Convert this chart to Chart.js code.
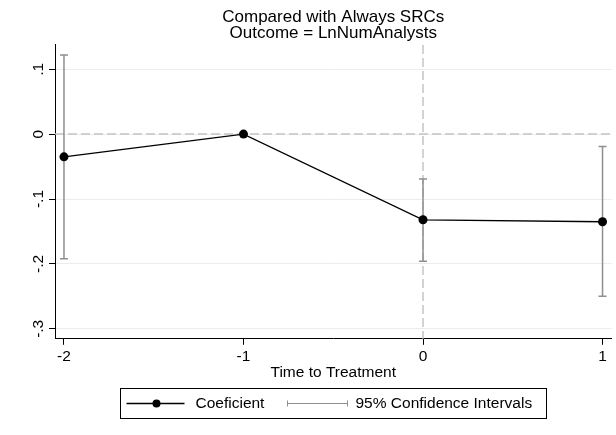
<!DOCTYPE html>
<html>
<head>
<meta charset="utf-8">
<script src="https://cdn.jsdelivr.net/npm/chart.js@4.4.1/dist/chart.umd.min.js"></script>
<style>
  html, body { margin: 0; padding: 0; background: #fff; }
  canvas { display: block; }
</style>
</head>
<body>
<canvas id="chart" width="616" height="435"></canvas>
<script>
// event-study estimates
const periods = [-2, -1, 0, 1];
const coefficients = [-0.035, 0, -0.132, -0.135];
const ciLower = [-0.192, null, -0.196, -0.250];
const ciUpper = [0.122, null, -0.069, -0.019];

const xTicks = [-2, -1, 0, 1];
const yTicks = [-0.3, -0.2, -0.1, 0, 0.1];

const titleLines = ['Compared with Always SRCs', 'Outcome = LnNumAnalysts'];
const xTitle = 'Time to Treatment';
const legendLabels = ['Coeficient', '95% Confidence Intervals'];

const FONT = "'Liberation Sans', Arial, sans-serif";
const CI_COLOR = '#8f8f8f';
const REF_COLOR = '#c4c4c4';

// Stata style: ".1", "-.1"
function fmtTick(v) {
  const r = Math.round(v * 10) / 10;
  return String(r).replace(/^(-?)0\./, '$1.');
}

const refLines = {
  id: 'refLines',
  beforeDatasetsDraw(chart) {
    const { ctx, chartArea: a, scales: { x, y } } = chart;
    ctx.save();
    ctx.strokeStyle = REF_COLOR;
    ctx.lineWidth = 1.5;
    ctx.setLineDash([9, 4]);
    const y0 = y.getPixelForValue(0);
    ctx.beginPath(); ctx.moveTo(a.left, y0); ctx.lineTo(a.right, y0); ctx.stroke();
    const x0 = x.getPixelForValue(0);
    ctx.beginPath(); ctx.moveTo(x0, a.top); ctx.lineTo(x0, a.bottom); ctx.stroke();
    ctx.restore();
  }
};

const errorBars = {
  id: 'errorBars',
  beforeDatasetsDraw(chart) {
    const { ctx, scales: { x, y } } = chart;
    ctx.save();
    ctx.strokeStyle = CI_COLOR;
    ctx.lineWidth = 1.5;
    periods.forEach((p, i) => {
      if (ciLower[i] == null) return;
      const px = x.getPixelForValue(p);
      const lo = y.getPixelForValue(ciLower[i]);
      const hi = y.getPixelForValue(ciUpper[i]);
      ctx.beginPath();
      ctx.moveTo(px, lo); ctx.lineTo(px, hi);
      ctx.moveTo(px - 4, lo); ctx.lineTo(px + 4, lo);
      ctx.moveTo(px - 4, hi); ctx.lineTo(px + 4, hi);
      ctx.stroke();
    });
    ctx.restore();
  }
};

const boxLegend = {
  id: 'boxLegend',
  afterDraw(chart) {
    const { ctx, chartArea: a } = chart;
    const cx = (a.left + a.right) / 2;
    const left = Math.round(cx - 213) + 0.5;
    const top = Math.round(a.bottom + 49) + 0.5;
    const midY = top + 15;
    ctx.save();
    ctx.strokeStyle = '#000';
    ctx.lineWidth = 1;
    ctx.strokeRect(left, top, 426, 30);

    // coefficient key
    ctx.lineWidth = 1.3;
    ctx.beginPath(); ctx.moveTo(left + 6, midY); ctx.lineTo(left + 64, midY); ctx.stroke();
    ctx.fillStyle = '#000';
    ctx.beginPath(); ctx.arc(left + 36, midY, 4, 0, Math.PI * 2); ctx.fill();

    // CI key
    ctx.strokeStyle = CI_COLOR;
    ctx.lineWidth = 1;
    ctx.beginPath();
    ctx.moveTo(left + 167, midY); ctx.lineTo(left + 227, midY);
    ctx.moveTo(left + 167, midY - 3); ctx.lineTo(left + 167, midY + 3);
    ctx.moveTo(left + 227, midY - 3); ctx.lineTo(left + 227, midY + 3);
    ctx.stroke();

    ctx.font = '15.5px ' + FONT;
    ctx.textBaseline = 'middle';
    ctx.textAlign = 'left';
    ctx.fillStyle = '#000';
    ctx.fillText(legendLabels[0], left + 75, midY);
    ctx.fillText(legendLabels[1], left + 235, midY);
    ctx.restore();
  }
};

new Chart(document.getElementById('chart'), {
  type: 'scatter',
  data: {
    datasets: [{
      label: legendLabels[0],
      data: periods.map((p, i) => ({ x: p, y: coefficients[i] })),
      showLine: true,
      borderColor: '#000',
      borderWidth: 1.3,
      pointRadius: 4.5,
      pointBackgroundColor: '#000',
      pointBorderWidth: 0,
      tension: 0
    }]
  },
  options: {
    responsive: false,
    animation: false,
    devicePixelRatio: 1,
    layout: { padding: { left: 28.4, right: 4, top: 0, bottom: 53 } },
    plugins: {
      legend: { display: false },
      tooltip: { enabled: false },
      title: {
        display: true,
        text: titleLines,
        fullSize: false,
        color: '#000',
        font: { family: FONT, size: 17, weight: 'normal', lineHeight: 0.94 },
        padding: { top: 9, bottom: 4 }
      }
    },
    scales: {
      x: {
        type: 'linear',
        min: -2.05,
        max: 1.05,
        afterBuildTicks: (scale) => { scale.ticks = xTicks.map(v => ({ value: v })); },
        ticks: {
          color: '#000',
          font: { family: FONT, size: 15.5 },
          padding: 3,
          maxRotation: 0,
          autoSkip: false,
          callback: (v) => fmtTick(v)
        },
        grid: { drawOnChartArea: false, tickLength: 6, color: '#000', tickColor: '#000' },
        border: { color: '#000', width: 1 },
        title: {
          display: true,
          text: xTitle,
          color: '#000',
          font: { family: FONT, size: 15.5 },
          padding: { top: -6, bottom: 0 }
        }
      },
      y: {
        min: -0.3154,
        max: 0.1374,
        afterBuildTicks: (scale) => { scale.ticks = yTicks.map(v => ({ value: v })); },
        ticks: {
          color: '#000',
          font: { family: FONT, size: 15.5 },
          padding: 1,
          minRotation: 90,
          maxRotation: 90,
          crossAlign: 'center',
          autoSkip: false,
          callback: (v) => fmtTick(v)
        },
        grid: { color: '#e8eef0', lineWidth: 1, tickLength: 6, tickColor: '#000' },
        border: { color: '#000', width: 1 }
      }
    }
  },
  plugins: [refLines, errorBars, boxLegend]
});
</script>
</body>
</html>
